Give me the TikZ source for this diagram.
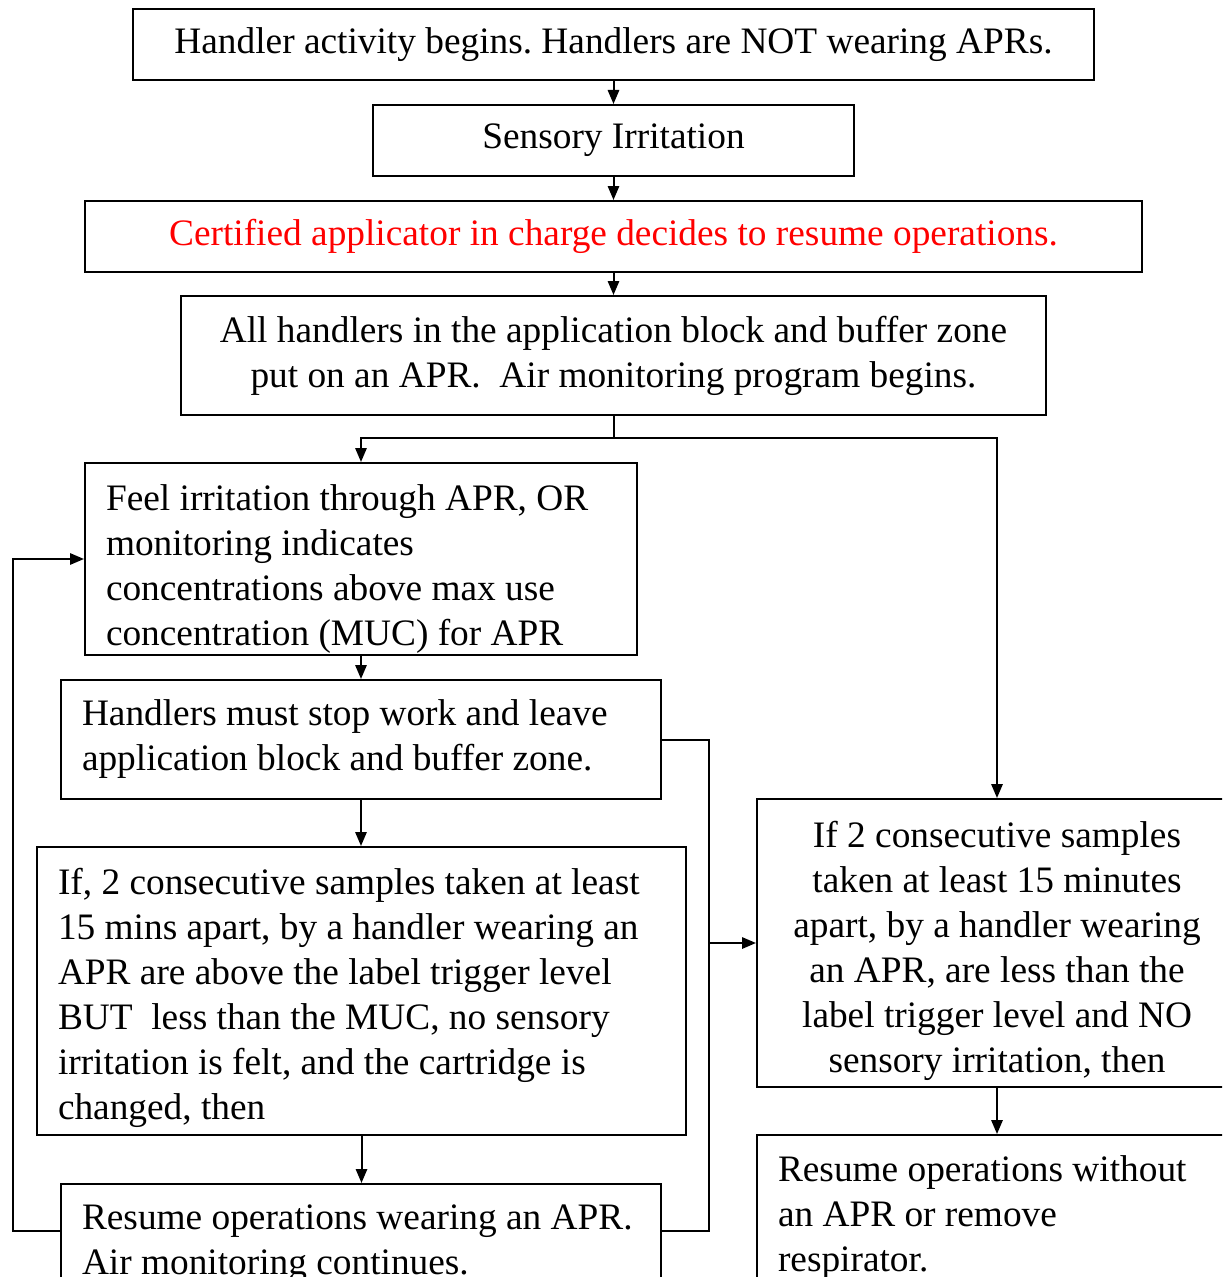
\documentclass[tikz,border=0pt]{standalone}
\usepackage{fontspec}
\setmainfont{Liberation Serif}
\usetikzlibrary{arrows.meta}
\frenchspacing
\begin{document}
\begin{tikzpicture}[x=0.75pt,y=-0.75pt,
  box/.style={draw=black, line width=1.5pt, rectangle, inner sep=0pt, inner xsep=15.75pt,
    font=\fontsize{28}{33.75}\selectfont},
  arr/.style={line width=1.5pt, -{Triangle[length=10.5pt,width=8.5pt]}},
  conn/.style={line width=1.5pt}]
\useasboundingbox (0,0) rectangle (1222,1277);
\clip (0,0) rectangle (1222,1277);

\node[box, minimum width=720.75pt, minimum height=53.25pt] (b1) at (613.5,44.5)
  {Handler activity begins. Handlers are NOT wearing APRs.};
\node[box, minimum width=360.75pt, minimum height=53.25pt] (b2) at (613.5,140.5)
  {Sensory Irritation};
\node[box, minimum width=792.75pt, minimum height=53.25pt, text=red] (b3) at (613.5,236.5)
  {Certified applicator in charge decides to resume operations.};
\node[box, minimum width=648.75pt, minimum height=89.25pt, align=center] (b4) at (613.5,355.5)
  {All handlers in the application block and buffer zone\\put on an APR.\ \ Air monitoring program begins.};
\node[box, minimum width=414pt, text width=382.5pt, minimum height=144pt, align=flush left] (b5) at (361,559)
  {\rule{0pt}{34pt}Feel irritation through APR, OR\\monitoring indicates\\concentrations above max use\\concentration (MUC) for APR};
\node[box, minimum width=450pt, text width=418.5pt, minimum height=89.25pt, align=flush left] (b6) at (361,739.5)
  {Handlers must stop work and leave\\application block and buffer zone.};
\node[box, minimum width=486.75pt, text width=455.25pt, minimum height=216pt, align=flush left] (b7) at (361.5,991)
  {\rule{0pt}{30pt}If, 2 consecutive samples taken at least\\15 mins apart, by a handler wearing an\\APR are above the label trigger level\\BUT\ \ less than the MUC, no sensory\\irritation is felt, and the cartridge is\\changed, then};
\node[box, minimum width=450pt, text width=418.5pt, minimum height=84pt, align=flush left] (b10) at (361,1240)
  {\rule{0pt}{24pt}Resume operations wearing an APR.\\Air monitoring continues.};
\node[box, minimum width=360pt, text width=328.5pt, minimum height=216pt, align=flush center] (b8) at (997,943)
  {\rule{0pt}{31.5pt}If 2 consecutive samples\\taken at least 15 minutes\\apart, by a handler wearing\\an APR, are less than the\\label trigger level and NO\\sensory irritation, then};
\node[box, minimum width=360pt, text width=328.5pt, minimum height=120.75pt, align=flush left] (b9) at (997,1215.5)
  {\rule{0pt}{23pt}Resume operations without\\an APR or remove\\respirator.};

\coordinate (j1) at (613.5,438);
\coordinate (j2) at (709,943);
\coordinate (j3) at (709,1231);
\coordinate (j4) at (13,1231);

\draw[arr] (b1) -- (b2);
\draw[arr] (b2) -- (b3);
\draw[arr] (b3) -- (b4);
\draw[conn] (b4.south) -- (j1);
\draw[arr] (j1) -| (b5.north);
\draw[arr] (j1) -| (b8.north);
\draw[arr] (b5) -- (b6);
\draw[arr] (b6.south) -- (b6.south |- b7.north);
\draw[arr] (b7.south) -- (b7.south |- b10.north);
\draw[arr] (b8) -- (b9);
\draw[arr] (b6.east) -| (j2) -- (b8.west);
\draw[conn] (b10.east |- j3) -- (j3) -- (j2);
\draw[arr] (b10.west |- j4) -- (j4) |- (b5.west);
\end{tikzpicture}
\end{document}
